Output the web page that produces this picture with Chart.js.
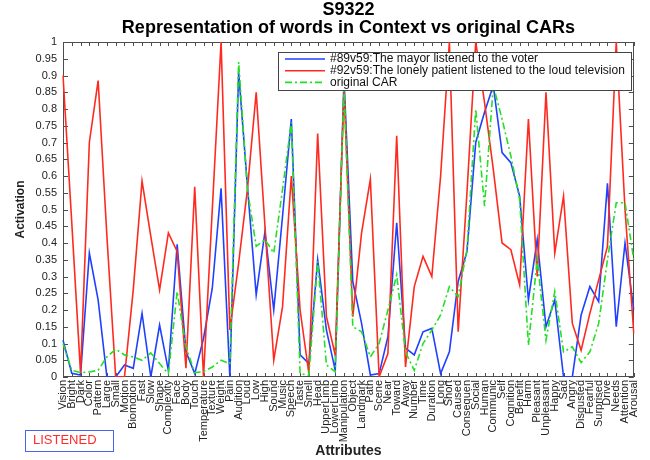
<!DOCTYPE html>
<html lang="en">
<head>
<meta charset="UTF-8">
<title>S9322 – Representation of words in Context vs original CARs</title>
<script src="https://cdn.jsdelivr.net/npm/chart.js@4.4.6/dist/chart.umd.min.js"></script>
<style>
  html, body { margin: 0; padding: 0; background: #fff; }
  .wrap { position: relative; width: 650px; height: 460px; }
  canvas { display: block; }
  .tag {
    position: absolute; left: 25px; top: 430px; width: 89px; height: 22px;
    border: 1.5px solid #4664f0; box-sizing: border-box;
    color: #ff2a2a; font: 13px "Liberation Sans", Arial, sans-serif;
    line-height: 17px; padding-left: 7px;
  }
</style>
</head>
<body>
<div class="wrap">
  <canvas id="chart" width="650" height="460"></canvas>
  <div class="tag">LISTENED</div>
</div>
<script>
// x tick labels, as printed under the axis
const attributes = [
  'Vision', 'Bright', 'Dark', 'Color', 'Pattern', 'Large', 'Small', 'Motion', 'Biomotion', 'Fast',
  'Slow', 'Shape', 'Complexity', 'Face', 'Body', 'Touch', 'Temperature', 'Texture', 'Weight', 'Pain',
  'Audition', 'Loud', 'Low', 'High', 'Sound', 'Music', 'Speech', 'Taste', 'Smell', 'Head',
  'UpperLimb', 'LowerLimb', 'Manipulation', 'Object', 'Landmark', 'Path', 'Scene', 'Near', 'Toward', 'Away',
  'Number', 'Time', 'Duration', 'Long', 'Short', 'Caused', 'Consequen', 'Social', 'Human', 'Communic',
  'Self', 'Cognition', 'Benefit', 'Harm', 'Pleasant', 'Unpleasant', 'Happy', 'Sad', 'Angry', 'Disgusted',
  'Fearful', 'Surprised', 'Drive', 'Needs', 'Attention', 'Arousal'
];

// #89v59 – blue
const mayorVoter = [
  0.11, 0.011, 0.006, 0.37, 0.23, 0, 0, 0.036, 0.026, 0.19,
  0, 0.155, 0.02, 0.396, 0.076, 0.01, 0.115, 0.265, 0.563, 0,
  0.91, 0.57, 0.245, 0.434, 0.2, 0.48, 0.77, 0.066, 0.04, 0.35,
  0.14, 0.02, 0.89, 0.285, 0.16, 0.006, 0.01, 0.12, 0.46, 0.086,
  0.066, 0.135, 0.145, 0.01, 0.075, 0.285, 0.374, 0.70, 0.79, 0.87,
  0.67, 0.64, 0.54, 0.23, 0.41, 0.15, 0.23, 0, 0, 0.185,
  0.27, 0.225, 0.578, 0.15, 0.40, 0.2
];

// #92v59 – red
const patientTv = [
  0.90, 0.46, 0.01, 0.70, 0.885, 0.42, 0, 0, 0.26, 0.585,
  0.42, 0.26, 0.43, 0.375, 0.026, 0.568, 0, 0.5, 1.0, 0.14,
  0.34, 0.56, 0.85, 0.45, 0.05, 0.21, 0.6, 0.2, 0.01, 0.727,
  0.18, 0.065, 0.86, 0.18, 0.43, 0.59, 0, 0.07, 0.72, 0.03,
  0.27, 0.36, 0.30, 0.6, 1.0, 0.135, 0.55, 1.0, 0.82, 0.62,
  0.40, 0.38, 0.275, 0.77, 0.30, 0.85, 0.37, 0.54, 0.16, 0.08,
  0.19, 0.29, 0.39, 1.0, 0.5, 0.13
];

// original CAR – green dash-dot
const originalCar = [
  0.10, 0.02, 0.013, 0.015, 0.02, 0.06, 0.083, 0.066, 0.06, 0.05,
  0.072, 0.04, 0.01, 0.255, 0.09, 0.013, 0.016, 0.03, 0.05, 0.04,
  0.94, 0.56, 0.39, 0.41, 0.37, 0.56, 0.76, 0.01, 0.005, 0.345,
  0.036, 0.016, 0.87, 0.15, 0.135, 0.06, 0.1, 0.2, 0.305, 0.075,
  0.02, 0.1, 0.14, 0.185, 0.27, 0.24, 0.38, 0.80, 0.51, 0.87,
  0.77, 0.66, 0.53, 0.095, 0.35, 0.11, 0.255, 0.075, 0.09, 0.043,
  0.075, 0.16, 0.35, 0.52, 0.52, 0.35
];

const FONT = '"Liberation Sans", Arial, Helvetica, sans-serif';

// MATLAB-style box with inward tick marks on all four sides
const axisBox = {
  id: 'axisBox',
  beforeDatasetsDraw(chart) {
    const { ctx, chartArea: a, scales: { x, y } } = chart;
    ctx.save();
    ctx.strokeStyle = '#4d4d4d';
    ctx.lineWidth = 1;
    ctx.beginPath();
    x.ticks.forEach((_, i) => {
      const px = Math.round(x.getPixelForTick(i)) + 0.5;
      ctx.moveTo(px, a.bottom); ctx.lineTo(px, a.bottom - 4);
      ctx.moveTo(px, a.top); ctx.lineTo(px, a.top + 4);
    });
    y.ticks.forEach((_, i) => {
      const py = Math.round(y.getPixelForTick(i)) + 0.5;
      ctx.moveTo(a.left, py); ctx.lineTo(a.left + 5, py);
      ctx.moveTo(a.right, py); ctx.lineTo(a.right - 5, py);
    });
    ctx.stroke();
    ctx.strokeRect(Math.round(a.left) + 0.5, Math.round(a.top) + 0.5,
      Math.round(a.width) - 1, Math.round(a.height) - 1);
    ctx.restore();
  }
};

// legend drawn as a boxed panel inside the axes
const boxLegend = {
  id: 'boxLegend',
  afterDatasetsDraw(chart, args, opts) {
    const { ctx } = chart;
    const { left, top, width, height, row } = opts;
    ctx.save();
    ctx.fillStyle = '#fff';
    ctx.fillRect(left, top, width, height);
    ctx.strokeStyle = '#444';
    ctx.lineWidth = 1;
    ctx.strokeRect(left + 0.5, top + 0.5, width, height);
    ctx.font = '12px ' + FONT;
    ctx.textBaseline = 'middle';
    chart.data.datasets.forEach((ds, i) => {
      const cy = top + 7 + i * row;
      ctx.strokeStyle = ds.borderColor;
      ctx.lineWidth = ds.borderWidth;
      ctx.setLineDash(ds.borderDash || []);
      ctx.beginPath();
      ctx.moveTo(left + 7, cy);
      ctx.lineTo(left + 47, cy);
      ctx.stroke();
      ctx.setLineDash([]);
      ctx.fillStyle = '#111';
      ctx.fillText(ds.label, left + 52, cy);
    });
    ctx.restore();
  }
};

new Chart(document.getElementById('chart'), {
  type: 'line',
  data: {
    labels: attributes,
    datasets: [
      { label: '#89v59:The mayor listened to the voter', data: mayorVoter,
        borderColor: '#2040ff', borderWidth: 1.6, pointRadius: 0, tension: 0, order: 3 },
      { label: '#92v59:The lonely patient listened to the loud television', data: patientTv,
        borderColor: '#ff2a1f', borderWidth: 1.6, pointRadius: 0, tension: 0, order: 2 },
      { label: 'original CAR', data: originalCar,
        borderColor: '#22e022', borderWidth: 1.6, borderDash: [7, 3, 2, 3], pointRadius: 0, tension: 0, order: 1 },
    ],
  },
  options: {
    responsive: false,
    animation: false,
    layout: { padding: { left: 0, right: 8, top: 0, bottom: 0 } },
    plugins: {
      legend: { display: false },
      tooltip: { enabled: false },
      title: {
        display: true,
        fullSize: false,
        text: ['S9322', 'Representation of words in Context vs original CARs'],
        color: '#000',
        font: { family: FONT, size: 18, weight: 'bold', lineHeight: 1 },
        padding: { top: 1, bottom: 5 },
      },
      boxLegend: { left: 278, top: 52, width: 353, height: 38, row: 11.7 },
    },
    scales: {
      x: {
        offset: false,
        grid: { display: false, drawTicks: false },
        border: { display: false },
        ticks: {
          autoSkip: false, minRotation: 90, maxRotation: 90, padding: 3,
          color: '#222', font: { family: FONT, size: 11 },
        },
        title: {
          display: true, text: 'Attributes', color: '#222',
          font: { family: FONT, size: 14, weight: 'bold', lineHeight: 1.2 },
          padding: { top: 0, bottom: 0 },
        },
        afterFit: s => { s.height = 83; },
      },
      y: {
        min: 0, max: 1,
        grid: { display: false, drawTicks: false },
        border: { display: false },
        ticks: {
          stepSize: 0.05, autoSkip: false, maxTicksLimit: 30, padding: 6,
          color: '#222', font: { family: FONT, size: 11 },
          callback: v => String(+(+v).toFixed(2)),
        },
        title: {
          display: true, text: 'Activation', color: '#222',
          font: { family: FONT, size: 12, weight: 'bold', lineHeight: 1.2 },
          padding: { top: 13, bottom: 0 },
        },
        afterFit: s => { s.width = 63; },
      },
    },
  },
  plugins: [axisBox, boxLegend],
});
</script>
</body>
</html>
